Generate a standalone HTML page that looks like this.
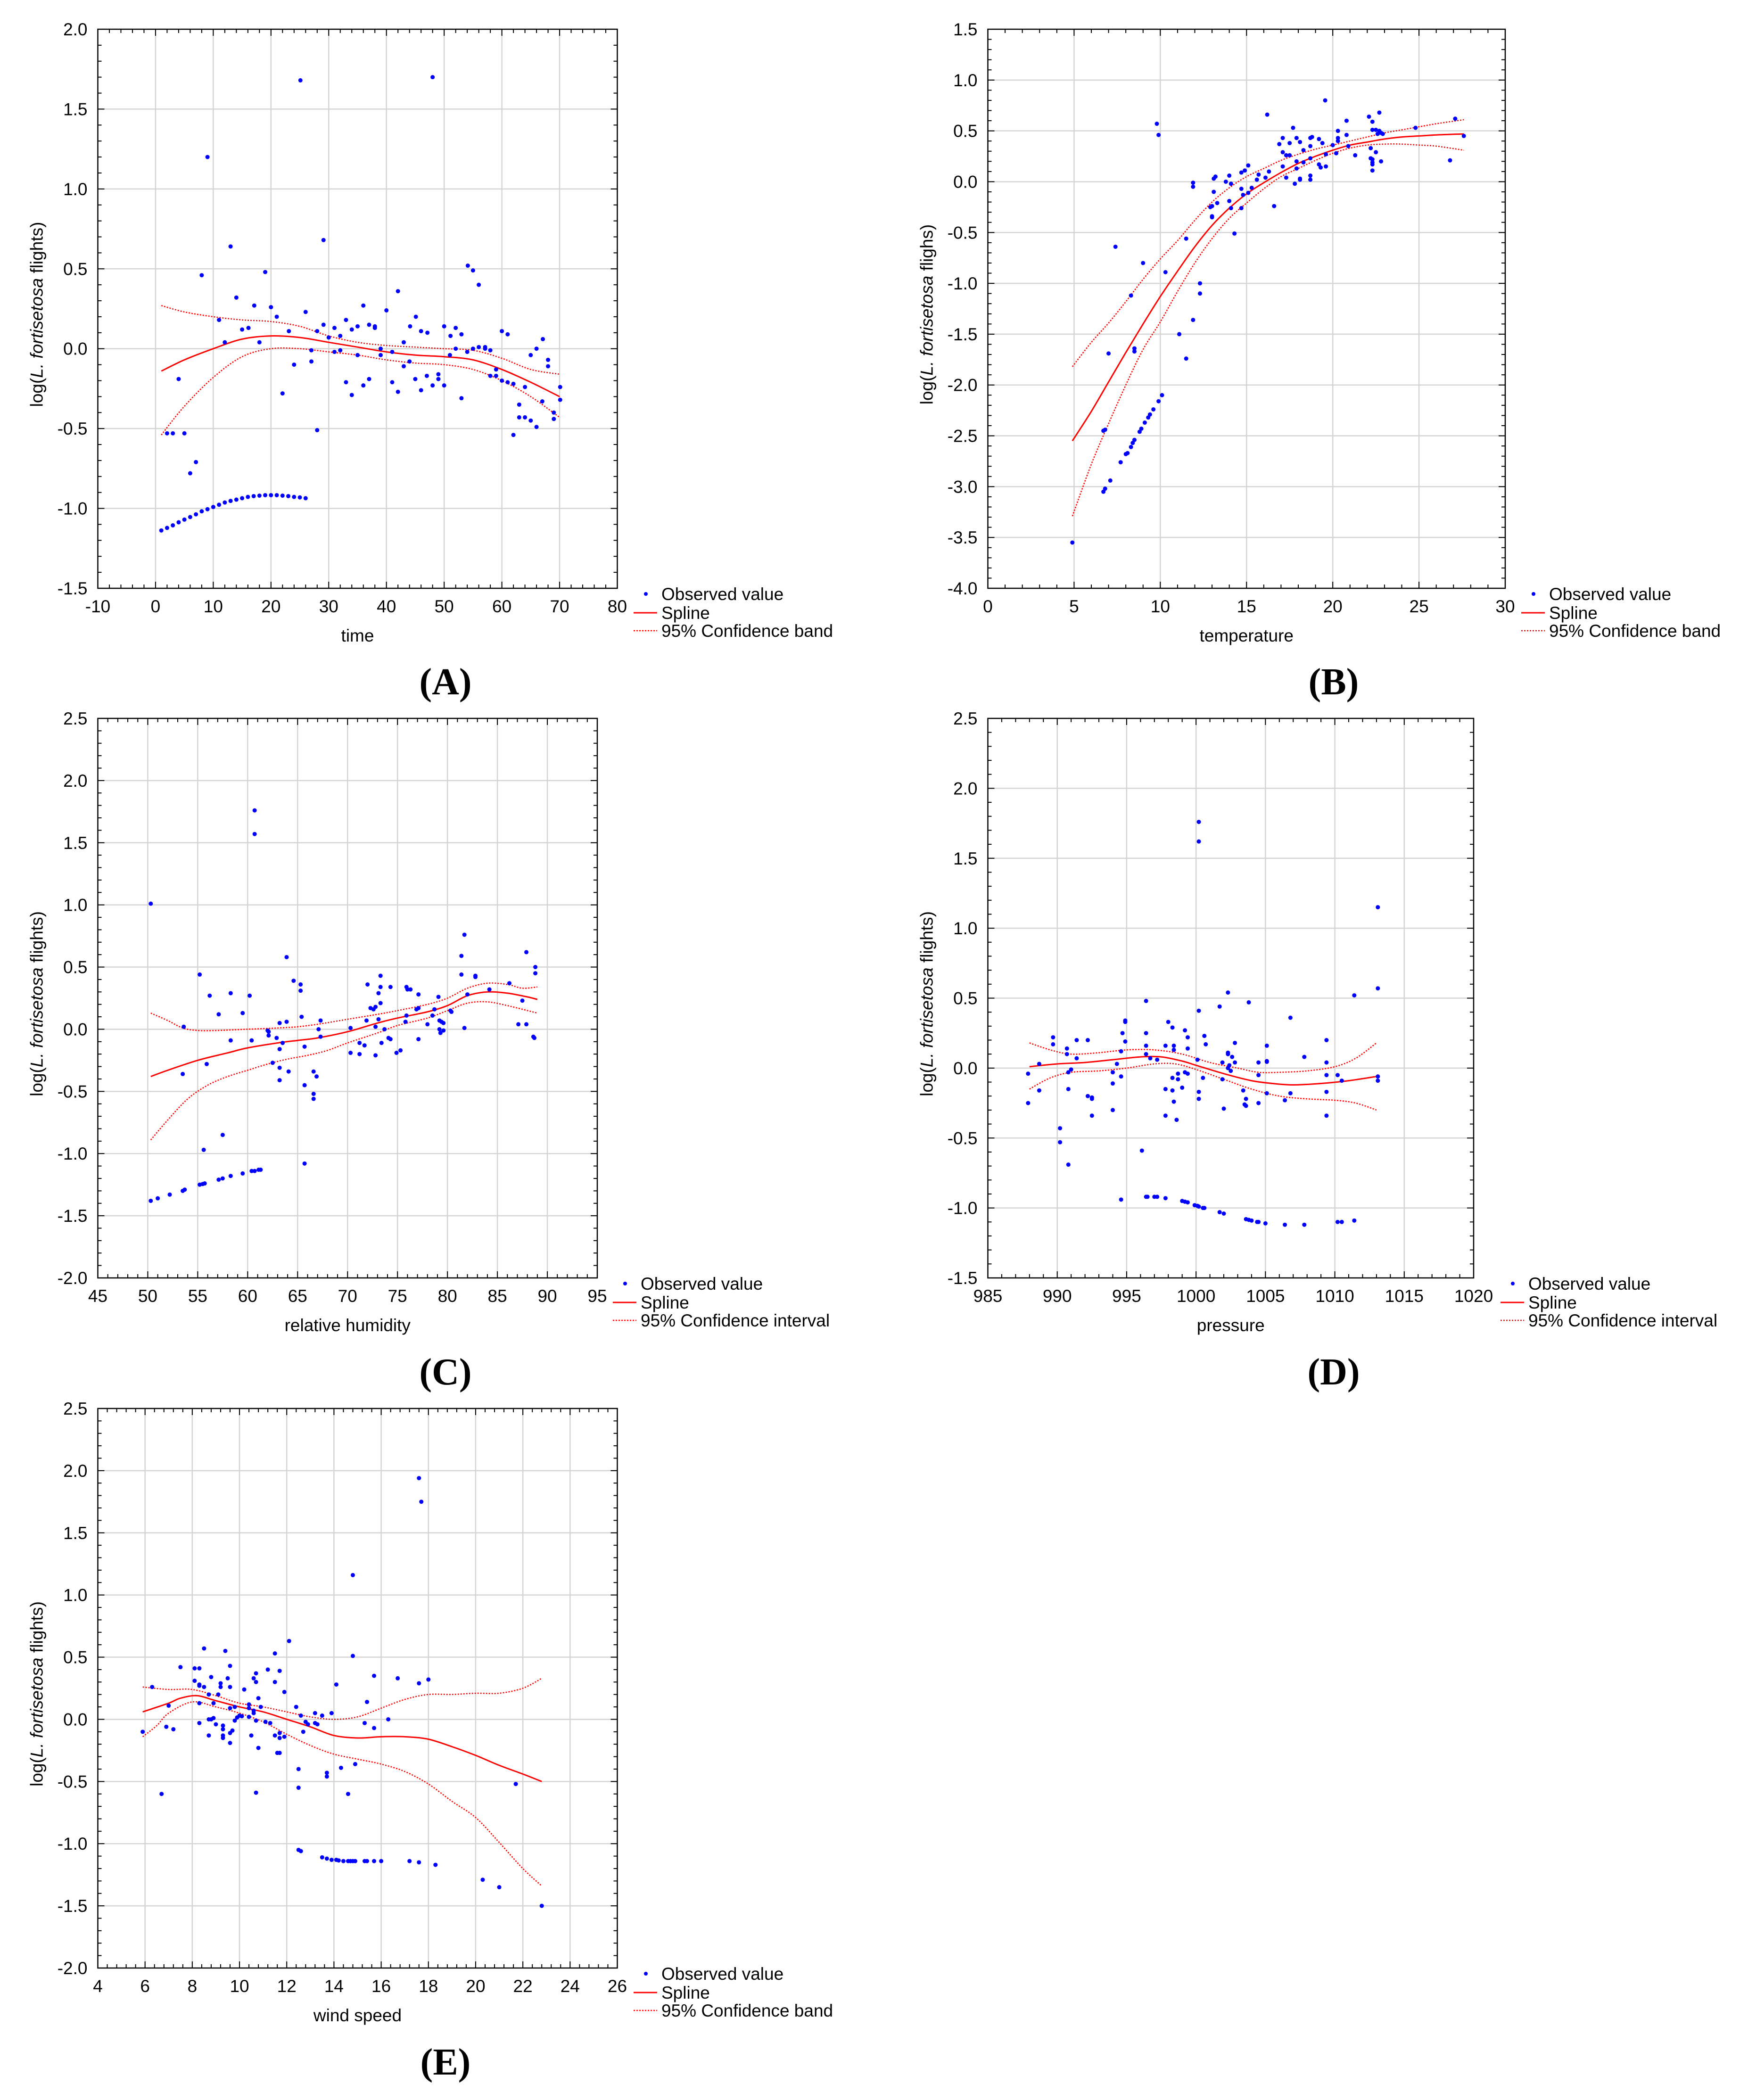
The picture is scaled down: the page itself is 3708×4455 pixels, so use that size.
<!DOCTYPE html>
<html><head><meta charset="utf-8"><title>L. fortisetosa flights vs. time and weather</title>
<style>
html,body{margin:0;padding:0;background:#fff;}
svg{display:block;}
text{font-family:"Liberation Sans",Arial,sans-serif;}
</style></head>
<body>
<svg id="fig" xmlns="http://www.w3.org/2000/svg" width="3708" height="4455" viewBox="0 0 3708 4455"></svg>
<script>
// ---------- Panel A: time ----------
const obsA = [[25.1,1.68],[48,1.70],[9,1.20],[13,0.64],[29.1,0.68],[8,0.46],[19,0.48],[14,0.32],[17.1,0.27],[20,0.26],[21,0.20],[26,0.23],[11,0.18],[15,0.12],[16.1,0.13],[12,0.04],[18,0.04],[23.1,0.11],[28,0.11],[29.1,0.15],[30,0.07],[31,0.13],[32,0.08],[33,0.18],[34,0.12],[35,0.14],[36,0.27],[37,0.15],[38,0.14],[38,0.13],[40,0.24],[42,0.36],[43,0.04],[44.1,0.14],[45.1,0.20],[46,0.11],[47.1,0.10],[50,0.14],[51.1,0.08],[52,0.13],[53,0.09],[54.1,0.52],[55,0.49],[56,0.40],[56,0.01],[57.1,0.01],[57.1,0.0],[58,-0.01],[60,0.11],[61,0.09],[67.1,0.06],[66,0.0],[65,-0.04],[68,-0.07],[68,-0.11],[70.1,-0.24],[70.1,-0.32],[69,-0.40],[69,-0.44],[67,-0.33],[66,-0.49],[65,-0.45],[64,-0.43],[63,-0.35],[63,-0.43],[62,-0.54],[64,-0.24],[62,-0.22],[61,-0.21],[60,-0.20],[59,-0.13],[59,-0.17],[58,-0.17],[55,0.0],[54,-0.02],[52,0.0],[51,-0.04],[53,-0.31],[50,-0.23],[49,-0.16],[49,-0.19],[48,-0.23],[47,-0.17],[46,-0.26],[45,-0.19],[44,-0.08],[43,-0.11],[42,-0.27],[41,-0.21],[41,-0.02],[39,0.0],[39,-0.04],[37,-0.19],[36,-0.23],[35,-0.04],[34,-0.29],[33,-0.21],[32,-0.01],[31,-0.02],[27,-0.01],[27,-0.08],[24,-0.10],[22,-0.28],[28,-0.51],[4,-0.19],[2,-0.53],[3,-0.53],[5,-0.53],[6,-0.78],[7,-0.71],
[1,-1.138],[2,-1.122],[3,-1.106],[4,-1.087],[5,-1.070],[6,-1.054],[7,-1.037],[8,-1.018],[9,-1.005],[10,-0.991],[11,-0.977],[12,-0.963],[13,-0.953],[14,-0.945],[15,-0.936],[16,-0.928],[17,-0.923],[18,-0.920],[19,-0.917],[20,-0.917],[21,-0.917],[22,-0.920],[23,-0.923],[24,-0.928],[25,-0.931],[26,-0.936]];
const splineA = [[1,-0.14],[5,-0.07],[10,0.0],[15,0.06],[20,0.08],[25,0.07],[30,0.04],[35,0.01],[40,-0.02],[45,-0.04],[50,-0.05],[55,-0.07],[60,-0.13],[65,-0.21],[70,-0.30]];
const upperA = [[1,0.27],[5,0.23],[10,0.20],[15,0.18],[20,0.17],[25,0.14],[30,0.08],[35,0.04],[40,0.02],[45,0.01],[50,0.0],[55,-0.01],[60,-0.06],[65,-0.13],[70,-0.16]];
const lowerA = [[1,-0.54],[5,-0.36],[10,-0.18],[15,-0.05],[20,0.0],[25,0.0],[30,-0.02],[35,-0.04],[40,-0.07],[45,-0.09],[50,-0.10],[55,-0.13],[60,-0.20],[65,-0.30],[70,-0.43]];

// ---------- Panel B: temperature ----------
const obsB = [[19.56,0.80],[16.2,0.66],[9.8,0.57],[9.9,0.46],[22.7,0.68],[22.1,0.64],[22.3,0.59],[20.8,0.60],[27.1,0.62],[17.7,0.53],[24.8,0.53],[20.3,0.50],[22.3,0.51],[22.5,0.51],[22.7,0.50],[22.8,0.48],[22.6,0.47],[22.9,0.47],[27.6,0.45],[20.8,0.46],[17.1,0.43],[17.9,0.43],[18.7,0.43],[18.8,0.44],[19.2,0.42],[20.3,0.43],[20.3,0.40],[19.4,0.38],[17.5,0.38],[16.9,0.37],[18.1,0.39],[20.0,0.36],[20.9,0.35],[22.2,0.33],[18.7,0.35],[18.3,0.31],[17.1,0.29],[17.3,0.26],[17.5,0.26],[17.9,0.20],[18.3,0.19],[20.2,0.28],[19.6,0.27],[21.3,0.26],[22.2,0.23],[22.3,0.22],[22.3,0.19],[22.3,0.17],[22.3,0.11],[22.5,0.29],[22.8,0.20],[26.8,0.21],[18.7,0.23],[19.2,0.17],[19.3,0.14],[19.6,0.15],[17.9,0.13],[17.1,0.15],[17.3,0.04],[17.8,-0.02],[18.1,0.02],[18.1,0.03],[18.7,0.06],[18.7,0.02],[16.3,0.10],[16.1,0.04],[15.7,0.07],[15.6,0.02],[15.1,0.16],[14.9,0.11],[14.7,0.09],[15.3,-0.06],[15.1,-0.11],[14.8,-0.13],[14.7,-0.07],[16.6,-0.24],[14.7,-0.26],[14.0,0.06],[14.1,-0.02],[13.8,0.0],[13.2,0.05],[13.1,0.03],[13.1,-0.10],[14.0,-0.19],[14.1,-0.26],[13.3,-0.21],[12.9,-0.25],[13.0,-0.24],[13.0,-0.34],[13.0,-0.35],[11.9,-0.01],[11.9,-0.05],[14.3,-0.51],[11.5,-0.56],[7.4,-0.64],[9.0,-0.80],[10.3,-0.89],[12.3,-1.00],[12.3,-1.10],[8.3,-1.12],[11.9,-1.36],[11.1,-1.50],[7.0,-1.69],[8.5,-1.64],[8.5,-1.67],[11.5,-1.74],[10.1,-2.10],[9.9,-2.16],[9.6,-2.24],[9.4,-2.29],[9.3,-2.32],[9.1,-2.37],[8.9,-2.43],[8.8,-2.46],[8.5,-2.54],[8.4,-2.57],[8.3,-2.61],[8.1,-2.67],[8.0,-2.68],[7.7,-2.76],[6.7,-2.45],[6.8,-2.44],[7.1,-2.94],[6.8,-3.02],[6.7,-3.05],[4.9,-3.55]];
const splineB = [[4.9,-2.55],[6,-2.26],[7,-1.97],[8,-1.68],[9,-1.40],[10,-1.13],[11,-0.88],[12,-0.64],[13,-0.43],[14,-0.26],[15,-0.12],[16,-0.01],[17,0.09],[18,0.18],[19,0.25],[20,0.31],[21,0.36],[22,0.39],[23,0.42],[24,0.44],[25,0.45],[26,0.46],[27.6,0.47]];
const upperB = [[4.9,-1.82],[6,-1.58],[7,-1.39],[8,-1.18],[9,-0.96],[10,-0.76],[11,-0.58],[12,-0.38],[13,-0.20],[14,-0.06],[15,0.05],[16,0.13],[17,0.21],[18,0.27],[19,0.32],[20,0.36],[21,0.40],[22,0.44],[23,0.48],[24,0.51],[25,0.54],[26,0.57],[27.6,0.61]];
const lowerB = [[4.9,-3.29],[6,-2.78],[7,-2.38],[8,-2.00],[9,-1.65],[10,-1.38],[11,-1.08],[12,-0.80],[13,-0.56],[14,-0.36],[15,-0.21],[16,-0.07],[17,0.05],[18,0.13],[19,0.21],[20,0.28],[21,0.33],[22,0.36],[23,0.37],[24,0.37],[25,0.36],[26,0.35],[27.6,0.31]];

// ---------- Panel C: relative humidity ----------
const obsC = [[50.3,1.01],[60.7,1.76],[60.7,1.57],[81.7,0.76],[87.9,0.62],[81.4,0.59],[63.9,0.58],[88.8,0.50],[88.8,0.45],[55.2,0.44],[81.4,0.44],[82.8,0.43],[82.8,0.42],[73.3,0.43],[64.6,0.39],[65.3,0.36],[65.3,0.31],[72.0,0.36],[74.3,0.34],[75.9,0.34],[76.0,0.32],[76.3,0.32],[73.3,0.34],[86.2,0.37],[84.2,0.32],[58.3,0.29],[60.2,0.27],[56.2,0.27],[73.1,0.29],[77.1,0.28],[82.0,0.28],[79.1,0.26],[87.5,0.23],[73.3,0.21],[72.3,0.17],[72.6,0.16],[72.8,0.18],[77.1,0.17],[76.9,0.16],[78.7,0.16],[80.3,0.15],[80.4,0.14],[57.1,0.12],[59.5,0.13],[65.4,0.10],[78.5,0.11],[75.9,0.11],[71.9,0.07],[73.1,0.08],[75.8,0.06],[67.3,0.07],[63.9,0.06],[63.2,0.05],[79.2,0.07],[79.4,0.06],[79.6,0.05],[78.0,0.04],[87.1,0.04],[87.9,0.04],[81.7,0.01],[53.6,0.02],[72.8,0.02],[67.1,0.0],[70.3,0.01],[62.0,-0.01],[62.1,-0.02],[62.1,-0.05],[73.7,0.0],[79.2,0.0],[79.6,-0.01],[79.3,-0.03],[67.3,-0.06],[62.9,-0.07],[74.1,-0.07],[74.3,-0.08],[58.3,-0.09],[60.4,-0.09],[77.1,-0.08],[88.6,-0.06],[88.7,-0.07],[63.5,-0.11],[73.4,-0.11],[71.2,-0.11],[71.7,-0.13],[65.7,-0.14],[63.2,-0.16],[75.3,-0.17],[70.3,-0.19],[71.2,-0.20],[74.9,-0.19],[72.8,-0.21],[55.9,-0.28],[62.5,-0.27],[63.2,-0.31],[64.1,-0.34],[53.5,-0.36],[66.6,-0.34],[66.9,-0.38],[63.2,-0.41],[65.7,-0.45],[66.6,-0.52],[66.6,-0.56],[57.5,-0.85],[55.6,-0.97],[65.7,-1.08],
[50.3,-1.38],[51.0,-1.36],[52.2,-1.33],[53.5,-1.30],[53.7,-1.29],[55.2,-1.25],[55.5,-1.245],[55.7,-1.24],[57.1,-1.21],[57.5,-1.20],[58.3,-1.18],[59.5,-1.16],[60.4,-1.14],[60.7,-1.14],[61.1,-1.13],[61.3,-1.13]];
const splineC = [[50.3,-0.38],[52,-0.33],[55,-0.25],[58,-0.19],[60,-0.15],[63,-0.11],[65,-0.09],[67,-0.07],[70,-0.02],[73,0.05],[75,0.09],[78,0.14],[80,0.19],[82,0.27],[84,0.30],[86,0.29],[88,0.26],[89,0.24]];
const upperC = [[50.3,0.13],[52,0.07],[53.5,0.01],[55,-0.01],[57,-0.01],[60,0.0],[63,0.01],[65,0.02],[67,0.04],[70,0.08],[73,0.12],[75,0.15],[78,0.20],[80,0.25],[82,0.33],[84,0.37],[86,0.36],[87.5,0.33],[89,0.34]];
const lowerC = [[50.3,-0.89],[52,-0.73],[54,-0.56],[56,-0.45],[58,-0.38],[60,-0.33],[62,-0.28],[64,-0.24],[66,-0.21],[68,-0.17],[70,-0.11],[73,-0.03],[75,0.03],[78,0.09],[80,0.15],[82,0.21],[84,0.22],[86,0.19],[89,0.13]];

// ---------- Panel D: pressure ----------
const obsD = [[1000.2,1.76],[1000.2,1.62],[1013.1,1.15],[1013.1,0.57],[1011.4,0.52],[1002.3,0.54],[1003.8,0.47],[996.4,0.48],[1001.7,0.44],[1000.2,0.41],[1006.8,0.36],[994.9,0.34],[994.9,0.33],[998.0,0.33],[998.3,0.29],[999.2,0.27],[994.7,0.25],[996.4,0.25],[999.4,0.22],[1000.6,0.23],[989.7,0.22],[992.2,0.20],[991.4,0.20],[1009.4,0.20],[994.9,0.19],[1002.8,0.18],[1000.7,0.17],[1005.1,0.16],[989.7,0.17],[996.4,0.16],[997.8,0.16],[998.4,0.16],[990.7,0.14],[998.4,0.13],[999.4,0.14],[994.6,0.12],[1002.3,0.11],[1002.3,0.10],[996.4,0.10],[990.7,0.10],[1002.6,0.08],[1007.8,0.08],[991.4,0.07],[996.7,0.07],[997.2,0.06],[1000.1,0.06],[1005.1,0.05],[1005.1,0.045],[1001.9,0.04],[1002.8,0.04],[1004.5,0.04],[994.3,0.03],[1009.4,0.04],[988.7,0.03],[1002.4,0.02],[1002.3,0.0],[1002.5,-0.02],[991.0,-0.01],[999.2,-0.03],[999.4,-0.04],[994.0,-0.03],[998.7,-0.04],[987.9,-0.04],[990.8,-0.03],[1004.5,-0.05],[1009.4,-0.05],[1010.2,-0.05],[1013.1,-0.06],[994.6,-0.06],[998.3,-0.07],[998.7,-0.08],[1000.5,-0.07],[1001.9,-0.08],[1010.5,-0.09],[1013.1,-0.09],[994.0,-0.11],[999.0,-0.14],[990.8,-0.15],[988.7,-0.16],[997.8,-0.15],[998.3,-0.16],[1003.4,-0.16],[1000.2,-0.17],[1009.4,-0.17],[1005.1,-0.18],[1006.8,-0.18],[992.2,-0.20],[992.5,-0.21],[992.5,-0.22],[1003.6,-0.22],[1000.2,-0.22],[998.4,-0.24],[1006.4,-0.23],[1004.5,-0.25],[1003.5,-0.26],[1003.6,-0.27],[987.9,-0.25],[1002.0,-0.29],[994.0,-0.30],[1009.4,-0.34],[992.5,-0.34],[997.8,-0.34],[998.6,-0.37],[990.2,-0.43],[990.2,-0.53],[996.1,-0.59],[990.8,-0.69],
[994.6,-0.94],[996.4,-0.92],[996.5,-0.92],[997.0,-0.92],[997.2,-0.92],[997.8,-0.93],[999.0,-0.95],[999.2,-0.955],[999.4,-0.96],[999.9,-0.98],[1000.1,-0.985],[1000.2,-0.99],[1000.5,-1.0],[1000.6,-1.0],[1001.7,-1.03],[1002.0,-1.04],[1003.6,-1.08],[1003.8,-1.085],[1004.0,-1.09],[1004.4,-1.10],[1004.5,-1.10],[1005.0,-1.11],[1006.4,-1.12],[1007.8,-1.12],[1010.2,-1.10],[1010.5,-1.10],[1011.4,-1.09]];
const splineD = [[988,0.01],[990,0.03],[992,0.04],[994,0.06],[996,0.08],[997.5,0.08],[999,0.05],[1000,0.02],[1002,-0.04],[1004,-0.09],[1005.5,-0.11],[1007,-0.12],[1009,-0.11],[1011,-0.09],[1013,-0.06]];
const upperD = [[988,0.18],[989.5,0.13],[991,0.10],[993,0.11],[995,0.13],[997,0.13],[999,0.10],[1001,0.04],[1003,0.0],[1004.5,-0.03],[1006,-0.03],[1008,-0.02],[1010,0.01],[1011.5,0.07],[1013,0.18]];
const lowerD = [[988,-0.15],[989.5,-0.07],[991,-0.03],[993,-0.02],[995,0.0],[997,0.03],[998.5,0.03],[1000,-0.01],[1002,-0.08],[1004,-0.15],[1006,-0.20],[1008,-0.22],[1010,-0.23],[1011.5,-0.25],[1013,-0.30]];

// ---------- Panel E: wind speed ----------
const obsE = [[17.6,1.94],[17.7,1.75],[14.8,1.16],[12.1,0.63],[14.8,0.51],[8.5,0.57],[9.4,0.55],[11.5,0.53],[9.6,0.43],[7.5,0.42],[8.1,0.41],[8.3,0.41],[11.2,0.40],[11.7,0.39],[10.7,0.37],[15.7,0.35],[9.5,0.33],[8.8,0.34],[10.6,0.33],[16.7,0.33],[18.0,0.32],[8.1,0.31],[10.7,0.30],[11.5,0.30],[9.2,0.29],[17.6,0.29],[8.3,0.28],[8.3,0.27],[14.1,0.28],[8.5,0.26],[6.3,0.26],[9.2,0.26],[9.6,0.26],[10.2,0.24],[11.9,0.22],[8.7,0.20],[9.1,0.20],[10.8,0.17],[15.4,0.14],[8.3,0.13],[8.9,0.13],[10.4,0.12],[10.4,0.09],[7.0,0.11],[9.8,0.10],[10.9,0.10],[12.4,0.10],[9.6,0.09],[10.6,0.07],[10.6,0.05],[13.2,0.05],[13.9,0.05],[10.0,0.03],[10.1,0.025],[9.9,0.015],[12.6,0.03],[13.5,0.03],[10.4,0.02],[8.7,0.0],[8.8,0.0],[8.9,0.01],[16.3,0.0],[10.7,-0.01],[9.8,-0.01],[11.1,-0.02],[11.3,-0.03],[12.8,-0.02],[12.9,-0.04],[13.3,-0.04],[13.2,-0.03],[15.3,-0.03],[8.3,-0.03],[9.0,-0.04],[9.3,-0.05],[9.3,-0.08],[9.3,-0.13],[9.3,-0.15],[5.9,-0.10],[6.9,-0.06],[7.2,-0.08],[15.7,-0.07],[9.7,-0.09],[9.6,-0.11],[12.7,-0.10],[8.7,-0.13],[10.5,-0.13],[11.5,-0.13],[11.9,-0.14],[11.7,-0.11],[11.7,-0.15],[9.6,-0.19],[10.8,-0.23],[11.6,-0.27],[11.7,-0.27],[14.9,-0.36],[14.3,-0.39],[12.5,-0.40],[13.7,-0.43],[13.7,-0.46],[21.7,-0.52],[12.5,-0.55],[6.7,-0.60],[10.7,-0.59],[14.6,-0.60],
[12.5,-1.05],[12.6,-1.06],[13.5,-1.11],[13.7,-1.12],[13.9,-1.13],[14.1,-1.13],[14.2,-1.135],[14.4,-1.14],[14.6,-1.14],[14.7,-1.14],[14.8,-1.14],[14.9,-1.14],[15.3,-1.14],[15.4,-1.14],[15.7,-1.14],[16.0,-1.14],[17.2,-1.14],[17.6,-1.15],[18.3,-1.17],[20.3,-1.29],[21.0,-1.35],[22.8,-1.50]];
const splineE = [[5.9,0.06],[7,0.13],[7.5,0.17],[8.2,0.19],[9,0.15],[10,0.10],[11,0.06],[12,0.0],[13,-0.06],[14,-0.13],[15,-0.15],[16,-0.14],[17,-0.14],[18,-0.16],[19,-0.22],[20,-0.29],[21,-0.37],[22,-0.44],[22.8,-0.50]];
const upperE = [[5.9,0.26],[7,0.24],[8,0.24],[9,0.19],[10,0.13],[11,0.10],[12,0.06],[13,0.02],[14,0.0],[15,0.02],[16,0.09],[17,0.16],[18,0.20],[19,0.20],[20,0.21],[21,0.21],[22,0.25],[22.8,0.33]];
const lowerE = [[5.9,-0.14],[6.5,-0.05],[7,0.05],[8,0.14],[9,0.10],[10,0.05],[11,-0.02],[12,-0.12],[13,-0.21],[14,-0.28],[15,-0.32],[16,-0.36],[17,-0.42],[18,-0.52],[19,-0.66],[20,-0.79],[21,-0.99],[22,-1.20],[22.8,-1.34]];

const NS = "http://www.w3.org/2000/svg";
const svg = document.getElementById("fig");
function mk(tag, attrs, parent) {
  const el = document.createElementNS(NS, tag);
  for (const k in attrs) el.setAttribute(k, attrs[k]);
  (parent || svg).appendChild(el);
  return el;
}
function smooth(pts) {
  let d = "M" + pts[0][0].toFixed(1) + "," + pts[0][1].toFixed(1);
  for (let i = 0; i < pts.length - 1; i++) {
    const p0 = pts[Math.max(0, i - 1)], p1 = pts[i], p2 = pts[i + 1], p3 = pts[Math.min(pts.length - 1, i + 2)];
    const c1x = p1[0] + (p2[0] - p0[0]) / 6, c1y = p1[1] + (p2[1] - p0[1]) / 6;
    const c2x = p2[0] - (p3[0] - p1[0]) / 6, c2y = p2[1] - (p3[1] - p1[1]) / 6;
    d += " C" + c1x.toFixed(1) + "," + c1y.toFixed(1) + " " + c2x.toFixed(1) + "," + c2y.toFixed(1) + " " + p2[0].toFixed(1) + "," + p2[1].toFixed(1);
  }
  return d;
}

function panel(c) {
  const g = mk("g", {});
  
  
  const sx = v => c.L + (v - c.xmin) / (c.xmax - c.xmin) * (c.R - c.L);
  const sy = v => c.B - (v - c.ymin) / (c.ymax - c.ymin) * (c.B - c.T);
  const nx = Math.round((c.xmax - c.xmin) / c.xstep), ny = Math.round((c.ymax - c.ymin) / c.ystep);
  // grid
  const grid = mk("g", {stroke: "#d4d4d4", "stroke-width": 2.5}, g);
  
  
  for (let i = 1; i < nx; i++) { const x = sx(c.xmin + i * c.xstep); mk("line", {x1: x, x2: x, y1: c.T, y2: c.B}, grid); }
  for (let i = 1; i < ny; i++) { const y = sy(c.ymin + i * c.ystep); mk("line", {x1: c.L, x2: c.R, y1: y, y2: y}, grid); }
  // ticks
  const ticks = mk("g", {stroke: "#000", "stroke-width": 2}, g);
  
  
  for (let i = 0; i <= nx * 5; i++) {
    const x = sx(c.xmin + i * c.xstep / 5), len = i % 5 === 0 ? 14 : 8;
    mk("line", {x1: x, x2: x, y1: c.B, y2: c.B - len}, ticks);
    mk("line", {x1: x, x2: x, y1: c.T, y2: c.T + len}, ticks);
  }
  for (let i = 0; i <= ny * 5; i++) {
    const y = sy(c.ymin + i * c.ystep / 5), len = i % 5 === 0 ? 14 : 8;
    mk("line", {x1: c.L, x2: c.L + len, y1: y, y2: y}, ticks);
    mk("line", {x1: c.R, x2: c.R - len, y1: y, y2: y}, ticks);
  }
  // frame
  const fr = mk("rect", {x: c.L, y: c.T, width: c.R - c.L, height: c.B - c.T, fill: "none", stroke: "#000", "stroke-width": 2.5}, g);
  
  
  // tick labels
  for (let i = 0; i <= nx; i++) {
    const v = c.xmin + i * c.xstep;
    const t = mk("text", {x: sx(v), y: c.B + 51, "font-size": 37, "text-anchor": "middle", fill: "#000"}, g);
    t.textContent = String(Math.round(v));
    
    
  }
  for (let i = 0; i <= ny; i++) {
    const v = c.ymin + i * c.ystep;
    const t = mk("text", {x: c.L - 22, y: sy(v) + 13, "font-size": 37, "text-anchor": "end", fill: "#000"}, g);
    t.textContent = v.toFixed(1);
    
    
  }
  // axis titles
  const xt = mk("text", {x: (c.L + c.R) / 2, y: c.B + 113, "font-size": 37, "text-anchor": "middle", fill: "#000"}, g);
  xt.textContent = c.xtitle;
  
  
  const ytx = c.L - 130, yty = (c.T + c.B) / 2 + 12;
  const yt = mk("text", {x: ytx, y: yty, "font-size": 37, "text-anchor": "middle", fill: "#000", transform: "rotate(-90 " + ytx + " " + yty + ")", dy: 13}, g);
  
  
  const s1 = mk("tspan", {}, yt); s1.textContent = "log(";
  const s2 = mk("tspan", {"font-style": "italic"}, yt); s2.textContent = "L. fortisetosa";
  const s3 = mk("tspan", {}, yt); s3.textContent = " " + c.yword + ")";
  // clip
  const clipId = "clip" + c.id;
  const cp = mk("clipPath", {id: clipId}, g);
  mk("rect", {x: c.L, y: c.T, width: c.R - c.L, height: c.B - c.T}, cp);
  // confidence band
  const up = mk("path", {d: smooth(c.upper.map(p => [sx(p[0]), sy(p[1])])), fill: "none", stroke: "#ff0000", "stroke-width": 2.5, "stroke-dasharray": "3 3", "clip-path": "url(#" + clipId + ")"}, g);
  
  
  const lo = mk("path", {d: smooth(c.lower.map(p => [sx(p[0]), sy(p[1])])), fill: "none", stroke: "#ff0000", "stroke-width": 2.5, "stroke-dasharray": "3 3", "clip-path": "url(#" + clipId + ")"}, g);
  
  
  const sp = mk("path", {d: smooth(c.spline.map(p => [sx(p[0]), sy(p[1])])), fill: "none", stroke: "#ff0000", "stroke-width": 3, "clip-path": "url(#" + clipId + ")"}, g);
  
  
  // points
  const pg = mk("g", {fill: "#0000ff"}, g);
  
  
  c.obs.forEach(p => {
    const d = mk("circle", {cx: sx(p[0]), cy: sy(p[1]), r: 4.5}, pg);
    
    
  });
  // legend
  const lg = mk("g", {}, g);
  
  
  const lx = c.legX, ly = c.legY;
  const ld = mk("circle", {cx: lx, cy: ly, r: 4}, lg); ld.setAttribute("fill", "#0000ff");
  
  
  const l1 = mk("line", {x1: lx - 26, x2: lx + 24, y1: ly + 40, y2: ly + 40, stroke: "#ff0000", "stroke-width": 3}, lg);
  
  
  const l2 = mk("line", {x1: lx - 26, x2: lx + 24, y1: ly + 78, y2: ly + 78, stroke: "#ff0000", "stroke-width": 2.5, "stroke-dasharray": "3 3"}, lg);
  
  
  const labels = ["Observed value", "Spline", c.ciLabel], offs = [0, 40, 78];
  labels.forEach((s, i) => {
    const t = mk("text", {x: lx + 33, y: ly + offs[i] + 13, "font-size": 37, fill: "#000"}, lg);
    t.textContent = s;
    
    
  });
  // panel letter
  const pl = mk("text", {x: c.letX, y: c.letY + 28, "font-size": 80, "font-weight": "bold", "text-anchor": "middle", fill: "#000"}, g);
  pl.setAttribute("style", 'font-family:"Liberation Serif",serif');
  pl.textContent = "(" + c.id + ")";
  
  
}

panel({id: "A", L: 207.5, R: 1309.5, T: 62, B: 1248, xmin: -10, xmax: 80, xstep: 10, ymin: -1.5, ymax: 2.0, ystep: 0.5,
  obs: obsA, spline: splineA, upper: upperA, lower: lowerA, xtitle: "time", yword: "flights", ciLabel: "95% Confidence band",
  legX: 1370, legY: 1260, letX: 945, letY: 1445});
panel({id: "B", L: 2095.5, R: 3193, T: 62, B: 1248, xmin: 0, xmax: 30, xstep: 5, ymin: -4.0, ymax: 1.5, ystep: 0.5,
  obs: obsB, spline: splineB, upper: upperB, lower: lowerB, xtitle: "temperature", yword: "flighs", ciLabel: "95% Confidence band",
  legX: 3253, legY: 1260, letX: 2829, letY: 1445});
panel({id: "C", L: 207.5, R: 1267, T: 1524, B: 2711, xmin: 45, xmax: 95, xstep: 5, ymin: -2.0, ymax: 2.5, ystep: 0.5,
  obs: obsC, spline: splineC, upper: upperC, lower: lowerC, xtitle: "relative humidity", yword: "flights", ciLabel: "95% Confidence interval",
  legX: 1326, legY: 2723, letX: 945, letY: 2909});
panel({id: "D", L: 2095.5, R: 3126, T: 1524, B: 2711, xmin: 985, xmax: 1020, xstep: 5, ymin: -1.5, ymax: 2.5, ystep: 0.5,
  obs: obsD, spline: splineD, upper: upperD, lower: lowerD, xtitle: "pressure", yword: "flights", ciLabel: "95% Confidence interval",
  legX: 3209, legY: 2723, letX: 2829, letY: 2909});
panel({id: "E", L: 207.5, R: 1309.5, T: 2988, B: 4175, xmin: 4, xmax: 26, xstep: 2, ymin: -2.0, ymax: 2.5, ystep: 0.5,
  obs: obsE, spline: splineE, upper: upperE, lower: lowerE, xtitle: "wind speed", yword: "flights", ciLabel: "95% Confidence band",
  legX: 1370, legY: 4187, letX: 945, letY: 4373});
</script>
</body></html>
